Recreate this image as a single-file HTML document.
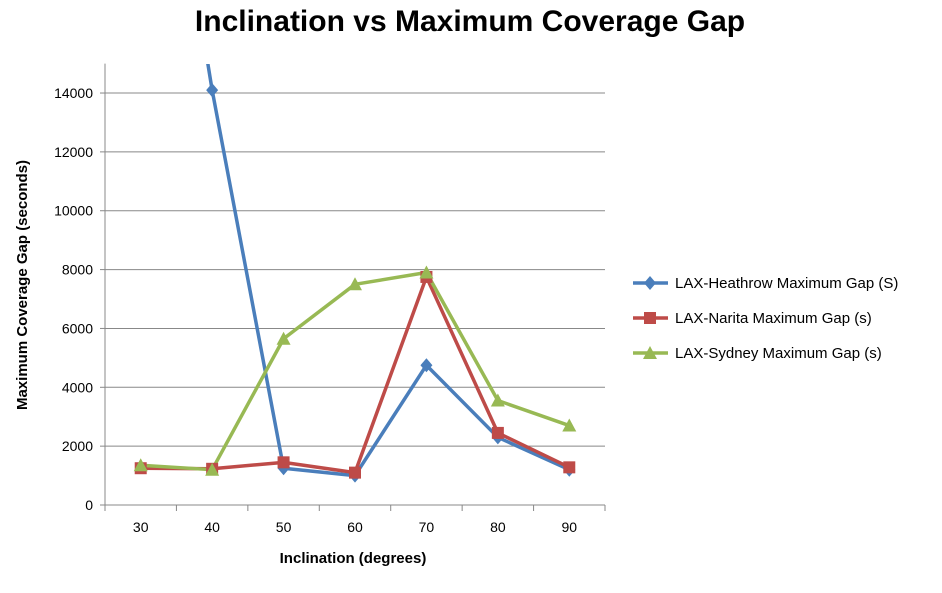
<!DOCTYPE html>
<html><head><meta charset="utf-8"><style>
body{margin:0;background:#fff;font-family:"Liberation Sans",sans-serif;}
svg text{font-family:"Liberation Sans",sans-serif;}
</style></head><body>
<svg id="chart" width="942" height="588" xmlns="http://www.w3.org/2000/svg">
<defs><clipPath id="plotclip"><rect x="104" y="64" width="501" height="442"/></clipPath></defs>
<text x="470" y="31" text-anchor="middle" font-size="30" font-weight="bold">Inclination vs Maximum Coverage Gap</text>
<g id="grid"></g>
<g id="axes"></g>
<g id="series" clip-path="url(#plotclip)"></g>
<g id="markers" clip-path="url(#plotclip)"></g>
<text x="353" y="563" text-anchor="middle" font-size="15" font-weight="bold">Inclination (degrees)</text>
<text transform="translate(27,285) rotate(-90)" text-anchor="middle" font-size="15" font-weight="bold">Maximum Coverage Gap (seconds)</text>
<g id="legend"></g>
</svg>
<script>
const categories=[30,40,50,60,70,80,90];
const heathrow=[29000,14100,1250,1000,4750,2300,1200];
const narita=[1250,1230,1450,1100,7750,2450,1280];
const sydney=[1350,1200,5650,7500,7900,3550,2700];
const yTicks=[0,2000,4000,6000,8000,10000,12000,14000];
const seriesNames=["LAX-Heathrow Maximum Gap (S)","LAX-Narita Maximum Gap (s)","LAX-Sydney Maximum Gap (s)"];
const NS="http://www.w3.org/2000/svg";
const x0=105,x1=605,y0=505,yMax=15000,yTop=63.6;
const band=(x1-x0)/categories.length;
function xs(i){return x0+band*(i+0.5);}
function ys(v){return y0-(v/yMax)*(y0-yTop);}
function mk(tag,at,parent){const e=document.createElementNS(NS,tag);for(const k in at)e.setAttribute(k,at[k]);parent.appendChild(e);return e;}
const grid=document.getElementById('grid'),axes=document.getElementById('axes');
yTicks.forEach(t=>{
 if(t>0){const l=mk('line',{x1:x0,x2:x1,y1:ys(t),y2:ys(t),stroke:'#888','stroke-width':1},grid);
 
 }
 const tk=mk('line',{x1:x0-5,x2:x0,y1:ys(t),y2:ys(t),stroke:'#888'},axes);
 
 
 const tx=mk('text',{x:x0-12,y:ys(t)+5,'text-anchor':'end','font-size':14},axes);tx.textContent=t;
 
 
});
const ya=mk('line',{x1:x0,x2:x0,y1:yTop,y2:y0,stroke:'#888'},axes);


const xa=mk('line',{x1:x0,x2:x1,y1:y0,y2:y0,stroke:'#888'},axes);


for(let i=0;i<=categories.length;i++){const t=mk('line',{x1:x0+band*i,x2:x0+band*i,y1:y0,y2:y0+6,stroke:'#888'},axes);
 
 }
categories.forEach((c,i)=>{const t=mk('text',{x:xs(i),y:y0+27,'text-anchor':'middle','font-size':14},axes);t.textContent=c;
 
 });
const colors=['#4a7ebb','#be4b48','#98b954'];
const data=[heathrow,narita,sydney];
const sg=document.getElementById('series'),mg=document.getElementById('markers');
function marker(kind,x,y,c,parent){
 let e;
 if(kind===0)e=mk('polygon',{points:`${x},${y-7} ${x+6},${y} ${x},${y+7} ${x-6},${y}`,fill:c},parent);
 else if(kind===1)e=mk('rect',{x:x-6,y:y-6,width:12,height:12,fill:c},parent);
 else e=mk('polygon',{points:`${x},${y-7} ${x+7},${y+6} ${x-7},${y+6}`,fill:c},parent);
 return e;
}
data.forEach((arr,s)=>{
 const p=mk('polyline',{points:arr.map((v,i)=>xs(i)+','+ys(v)).join(' '),fill:'none',stroke:colors[s],'stroke-width':3.5,'stroke-linejoin':'round'},sg);
 
 
 arr.forEach((v,i)=>{const m=marker(s,xs(i),ys(v),colors[s],mg);
  
  });
});
const lg=document.getElementById('legend');
seriesNames.forEach((n,s)=>{
 const y=283+s*35;
 const l=mk('line',{x1:633,x2:668,y1:y,y2:y,stroke:colors[s],'stroke-width':3.5},lg);
 
 
 const m=marker(s,650,y,colors[s],lg);
 
 
 const t=mk('text',{x:675,y:y+5,'font-size':15},lg);t.textContent=n;
 
 
});
</script>
</body></html>
